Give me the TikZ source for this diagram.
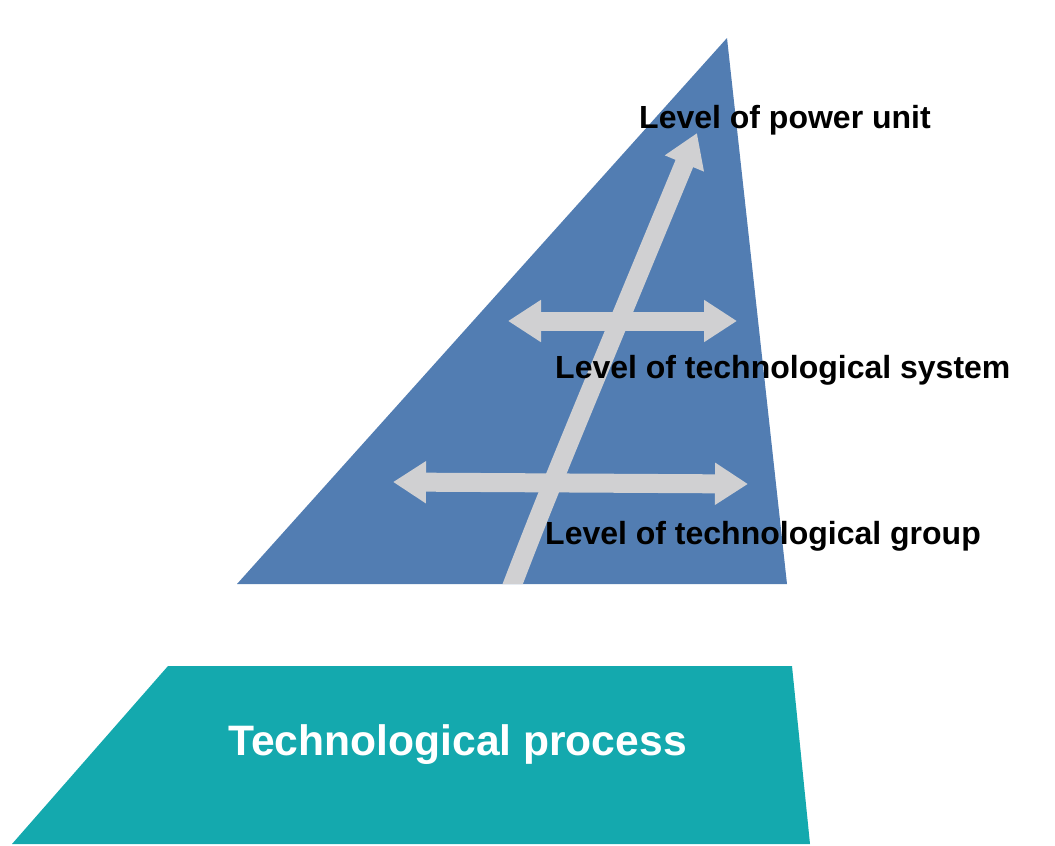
\documentclass[tikz,border=0pt]{standalone}
\usepackage{fontspec}
\setmainfont{Liberation Sans}
\usetikzlibrary{positioning}
\usetikzlibrary{arrows.meta}
\definecolor{levelblue}{RGB}{82,125,178}
\definecolor{processteal}{RGB}{20,169,174}
\definecolor{arrowgrey}{RGB}{208,208,210}

\tikzset{
	levelarrow/.style={draw=arrowgrey, line width=19pt, -{Triangle[length=33pt,width=40pt]}},
	levelarrows/.style={draw=arrowgrey, line width=19pt, {Triangle[length=33pt,width=40pt]}-{Triangle[length=33pt,width=40pt]}},
	levellabel/.style={anchor=base west, inner sep=0pt, font=\fontsize{32}{38}\selectfont\bfseries},
}

\begin{document}
\begin{tikzpicture}[x=1pt,y=-1pt]
	\useasboundingbox (0,0) rectangle (1055,846);

	% ---------------------
	% Pyramid & process block
	\coordinate (Apex) at (727,38);
	\coordinate (BaseLeft) at (237,584);
	\coordinate (BaseRight) at (787,584);

	\coordinate (ProcTopLeft) at (168,666);
	\coordinate (ProcTopRight) at (792,666);
	\coordinate (ProcBotRight) at (810,844);
	\coordinate (ProcBotLeft) at (12,844);

	% ---------------------
	% Arrow ends
	\coordinate (UpStart) at (505,604);
	\coordinate (UpTip) at (697,133);

	\coordinate (SystemLeft) at (508,321);
	\path (SystemLeft) +(229,0) coordinate (SystemRight);

	\coordinate (GroupLeft) at (393,482);
	\path (GroupLeft) +(355,2) coordinate (GroupRight);

	% ------------------------------------------------
	% Shapes
	\fill[levelblue] (Apex) -- (BaseRight) -- (BaseLeft) -- cycle;
	\fill[processteal] (ProcTopLeft) -- (ProcTopRight) -- (ProcBotRight) -- (ProcBotLeft) -- cycle;

	% ------------------------------------------------
	% Arrows
	\begin{scope}
		\clip (Apex) -- (BaseRight) -- (BaseLeft) -- cycle;
		\draw[levelarrow] (UpStart) .. controls (545,500) .. (UpTip);
	\end{scope}
	\draw[levelarrows] (SystemLeft) -- (SystemRight);
	\draw[levelarrows] (GroupLeft) -- (GroupRight);

	% ------------------------------------------------
	% Labels
	\node[levellabel] (UnitLabel) at (639,128) {Level of power unit};
	\node[levellabel] (SystemLabel) at (555,378) {Level of technological system};
	\node[levellabel] (GroupLabel) at (545,544) {Level of technological group};
	\node[anchor=base, inner sep=0pt, white, font=\fontsize{42.6}{50}\selectfont\bfseries] (ProcessLabel) at (457.5,755) {Technological process};

\end{tikzpicture}
\end{document}
